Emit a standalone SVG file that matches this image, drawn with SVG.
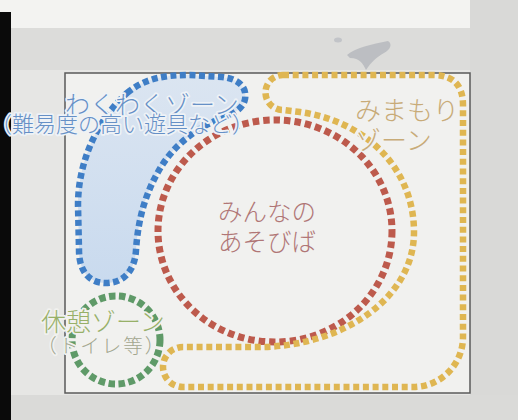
<svg xmlns="http://www.w3.org/2000/svg" width="518" height="420" viewBox="0 0 518 420">
  <style>
    .zone { fill: none; stroke-linecap: butt; }
    .lbl { font-family: "Noto Sans CJK JP", "Noto Sans", sans-serif; font-weight: 300; paint-order: stroke; stroke-linejoin: round; }
    .sub { font-feature-settings: "halt" 1; }
  </style>
  <defs>
    <linearGradient id="bluefill" x1="0" y1="0" x2="0" y2="1">
      <stop offset="0" stop-color="#dbe5f1"/>
      <stop offset="1" stop-color="#c9daee"/>
    </linearGradient>
  </defs>
  <!-- paper background -->
  <rect x="0" y="0" width="518" height="420" fill="#e6e6e4"/>
  <rect x="0" y="0" width="518" height="28" fill="#f3f3f1"/>
  <rect x="0" y="28" width="518" height="42" fill="#dcdcda"/>
  <rect x="470" y="0" width="48" height="420" fill="#d9d9d7"/>
  <rect x="0" y="395" width="518" height="25" fill="#dadad8"/>
  <rect x="0" y="12" width="11" height="408" fill="#0a0a0a"/>
  <!-- pen mark -->
  <path d="M347 55 C355 48 372 44 388 41 C393 44 390 50 384 53 C377 57 371 62 366 70 C363 64 360 58 350 58 Z" fill="#b4b6bc" opacity="0.8"/>
  <ellipse cx="338" cy="40" rx="4" ry="2.5" fill="#c2c4c8"/>
  <!-- frame -->
  <rect x="65" y="73" width="405" height="320" fill="#f1f1ef" stroke="#5a5a5a" stroke-width="1.5"/>

  <g id="wakuwaku-zone">
    <path d="M127 93 C145 78 165 75 190 75 L222 77 C240 79 247 88 245 99 C243 110 230 116 215 121 C190 132 170 150 158 172 C145 195 138 220 136 250 C135 270 124 283 106 283 C88 283 79 270 79 250 L78 205 C78 165 95 122 127 93 Z" fill="url(#bluefill)" stroke="none"/>
  </g>

  <g id="minna-zone">
    <ellipse class="zone" cx="275" cy="231" rx="117" ry="111" stroke="#bd5a4c" stroke-width="7" stroke-dasharray="6.5 4"/>
    <text class="lbl" x="218" y="221" font-size="24.5" fill="#b07676">みんなの</text>
    <text class="lbl" x="218" y="251" font-size="24.5" fill="#b07676">あそびば</text>
  </g>

  <g id="mimamori-zone">
    <path class="zone" d="M283 75 L433 75 Q463 75 463 105 L463 337 A50 50 0 0 1 413 387 L183 387 A20 20 0 0 1 183 347 L258 347 C340 347 414 300 414 232 C414 172 370 122 300 112 L283 110 A17.5 17.5 0 0 1 283 75 Z" stroke="#dfb652" stroke-width="6.5" stroke-dasharray="6 3.7"/>
    <text class="lbl" x="355" y="120" font-size="26" fill="#c8ab78" stroke="#f1f1ef" stroke-width="3">みまもり</text>
    <text class="lbl" x="355" y="150" font-size="26" fill="#c8ab78" stroke="#f1f1ef" stroke-width="3">ゾーン</text>
  </g>

  <g id="wakuwaku-outline">
    <path class="zone" d="M127 93 C145 78 165 75 190 75 L222 77 C240 79 247 88 245 99 C243 110 230 116 215 121 C190 132 170 150 158 172 C145 195 138 220 136 250 C135 270 124 283 106 283 C88 283 79 270 79 250 L78 205 C78 165 95 122 127 93 Z" stroke="#3f7ec6" stroke-width="6.5" stroke-dasharray="6 3.5"/>
    <text class="lbl" x="65" y="114" font-size="25" fill="#6690c6" stroke="#eef2f6" stroke-width="3.5">わくわくゾーン</text>
    <text class="lbl sub" x="1" y="132" font-size="22" fill="#6690c6" stroke="#eef2f6" stroke-width="3.5">（難易度の高い遊具など）</text>
  </g>

  <g id="kyukei-zone">
    <circle class="zone" cx="116" cy="340" r="44" stroke="#5f9a68" stroke-width="7" stroke-dasharray="6.5 3.5"/>
    <text class="lbl" x="41" y="331" font-size="25" fill="#97b068" stroke="#f1f1ef" stroke-width="3.5">休憩ゾーン</text>
    <text class="lbl sub" x="47" y="353" font-size="19.5" letter-spacing="2" fill="#a2a68e" stroke="#f1f1ef" stroke-width="3.5">（トイレ等）</text>
  </g>
</svg>
